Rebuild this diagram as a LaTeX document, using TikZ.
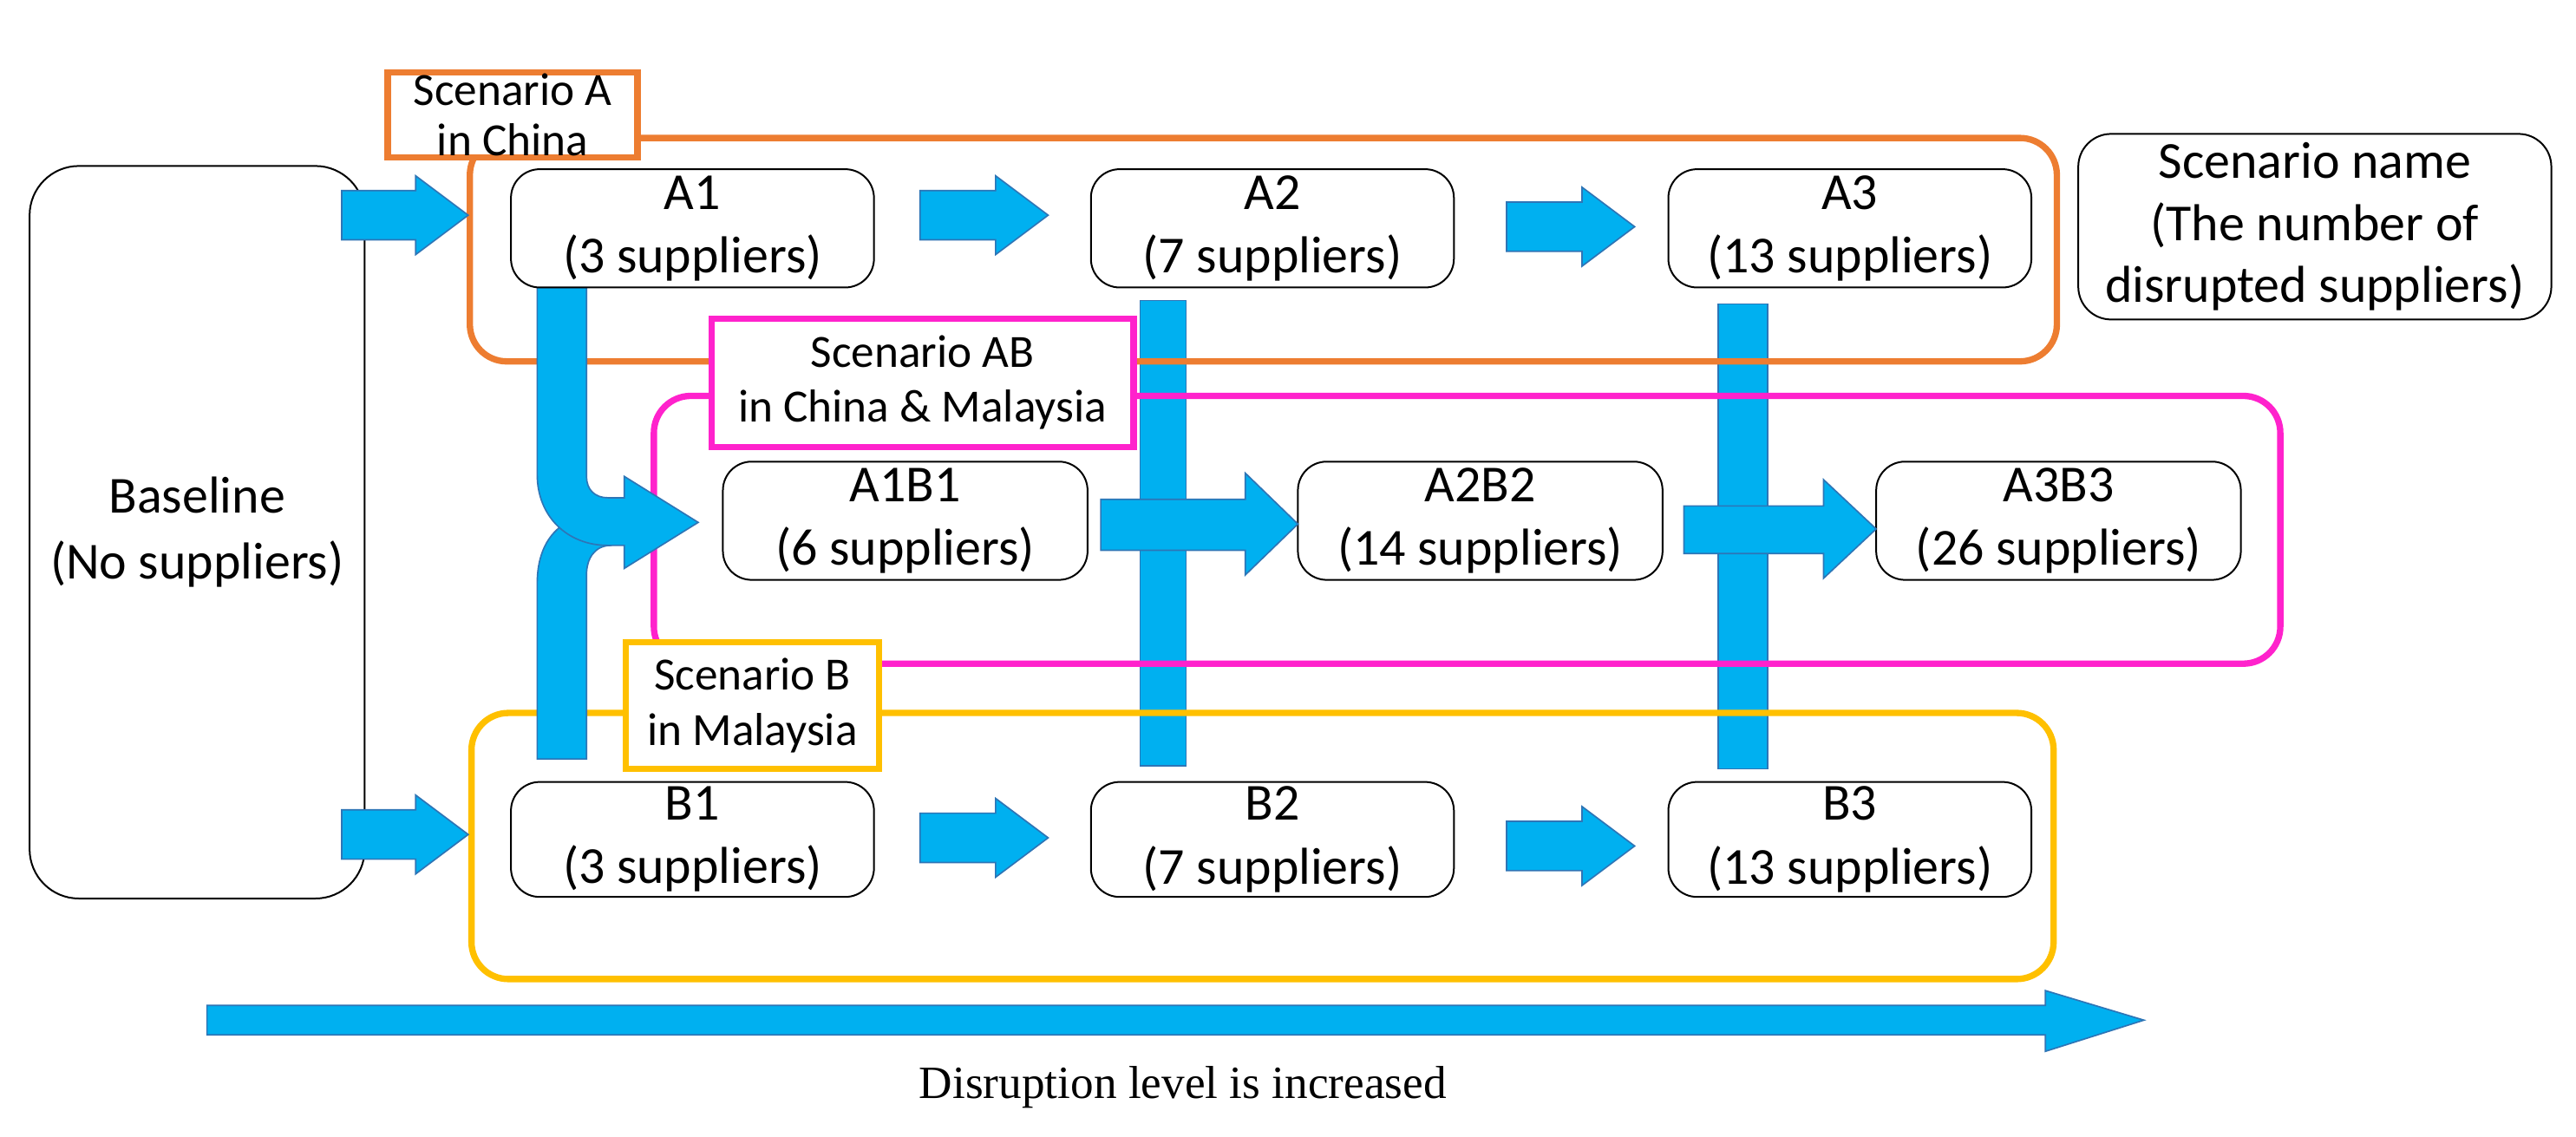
\documentclass[tikz,border=0pt]{standalone}
\usepackage{fontspec}
\setmainfont{Carlito}
\newfontfamily\timesf{Liberation Serif}
\definecolor{scA}{HTML}{ED7D31}
\definecolor{scAB}{HTML}{FF22CC}
\definecolor{scB}{HTML}{FFC000}
\definecolor{pipe}{HTML}{00B0F0}
\definecolor{pipeline}{HTML}{2E75B6}
\newcommand\blkarrow[3]{% x1, x2, yc
  \filldraw[blk] (#1,#3-15) -- ({#2-32},#3-15) -- ({#2-32},#3-24) -- (#2,#3)
    -- ({#2-32},#3+24) -- ({#2-32},#3+15) -- (#1,#3+15) -- cycle;}
\begin{document}
\begin{tikzpicture}[x=0.02cm,y=-0.02cm,
  blk/.style={fill=pipe,draw=pipeline,line width=0.5pt},
  box/.style={draw,rounded corners=0.35cm,fill=white,align=center,line width=0.6pt,
    font=\fontsize{18}{22}\selectfont,minimum height=1.44cm,inner sep=0pt},
  frame/.style={rounded corners=0.45cm,line width=2.2pt},
  lbl/.style={draw,fill=white,align=center,line width=2.2pt,inner sep=0pt,
    font=\fontsize{16}{17.5}\selectfont}]
\useasboundingbox (0,0) rectangle (1568,692);
% baseline and legend
\node[box,minimum width=4.08cm,minimum height=8.92cm,rounded corners=0.6cm,
  font=\fontsize{18}{23}\selectfont] (base) at (120,324) {Baseline\\(No suppliers)};
\node[box,minimum width=5.76cm,minimum height=2.26cm,rounded corners=0.4cm,
  font=\fontsize{18}{21.5}\selectfont] (legend) at (1409,138) {Scenario name\\(The number of\\disrupted suppliers)};
% pipes 2 and 3 (under the frames)
\filldraw[blk] (694,183) rectangle (722,466);
\filldraw[blk] (1046,185) rectangle (1076,468);
% scenario frames
\draw[frame,scA] (286,84) rectangle (1252,220);
\draw[frame,scAB] (398,241) rectangle (1388,404);
\draw[frame,scB] (287,434) rectangle (1250,596);
% pipe 1 with branch
\filldraw[blk] (327,462) -- (357,462) -- (357,350) .. controls (357,340) and (362,332) .. (372,332)
  -- (372,318) -- (345,318) .. controls (333,325) and (327,338) .. (327,355) -- cycle;
\filldraw[blk] (327,175) -- (357,175) -- (357,290) .. controls (357,298) and (362,303) .. (370,303)
  -- (380,303) -- (380,290) -- (425,318) -- (380,346) -- (380,332) -- (370,332)
  .. controls (345,332) and (327,314) .. (327,289) -- cycle;
% scenario nodes
\node[box,minimum width=4.42cm] (a1) at (421.5,139) {A1\\(3 suppliers)};
\node[box,minimum width=4.42cm] (a2) at (774.5,139) {A2\\(7 suppliers)};
\node[box,minimum width=4.42cm] (a3) at (1126,139) {A3\\(13 suppliers)};
\node[box,minimum width=4.44cm] (ab1) at (551,317) {A1B1\\(6 suppliers)};
\node[box,minimum width=4.44cm] (ab2) at (901,317) {A2B2\\(14 suppliers)};
\node[box,minimum width=4.44cm] (ab3) at (1253,317) {A3B3\\(26 suppliers)};
\node[box,minimum width=4.42cm,minimum height=1.40cm] (b1) at (421.5,511) {B1\\(3 suppliers)};
\node[box,minimum width=4.42cm,minimum height=1.40cm] (b2) at (774.5,511) {B2\\(7 suppliers)};
\node[box,minimum width=4.42cm,minimum height=1.40cm] (b3) at (1126,511) {B3\\(13 suppliers)};
% frame labels
\node[lbl,draw=scA,minimum width=3.04cm,minimum height=1.04cm] (la) at (312,70) {Scenario A\\in China};
\node[lbl,draw=scAB,minimum width=5.14cm,minimum height=1.56cm,
  font=\fontsize{16}{19}\selectfont] (lab) at (561.5,233) {Scenario AB\\in China \& Malaysia};
\node[lbl,draw=scB,minimum width=3.08cm,minimum height=1.54cm,
  font=\fontsize{16}{19}\selectfont] (lb) at (458,429.5) {Scenario B\\in Malaysia};
% block arrows
\blkarrow{208}{285}{131}
\blkarrow{208}{285}{508}
\blkarrow{560}{638}{131}
\blkarrow{917}{995}{138}
\blkarrow{560}{638}{510}
\blkarrow{917}{995}{515}
\filldraw[blk] (670,304) -- (758,304) -- (758,288) -- (790,319) -- (758,350) -- (758,335) -- (670,335) -- cycle;
\filldraw[blk] (1025,308) -- (1110,308) -- (1110,292) -- (1142,322) -- (1110,352) -- (1110,337) -- (1025,337) -- cycle;
% disruption axis
\filldraw[blk] (126,612) -- (1245,612) -- (1245,603) -- (1305,621) -- (1245,640) -- (1245,630) -- (126,630) -- cycle;
\node[font=\timesf\fontsize{16}{18}\selectfont] (axis) at (720,662) {Disruption level is increased};
\end{tikzpicture}
\end{document}
